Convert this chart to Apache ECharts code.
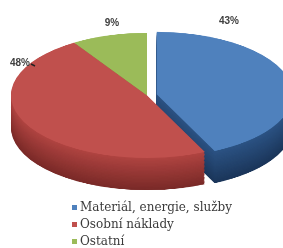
<!DOCTYPE html>
<html>
<head>
<meta charset="utf-8">
<script src="https://cdn.jsdelivr.net/npm/echarts@6/dist/echarts.min.js"></script>
<style>
    html, body { margin: 0; padding: 0; background: #fff; }
    #wrap { position: relative; width: 283px; height: 248px; overflow: hidden; }
    /* the pie is drawn round, then flattened into a tilted disc */
    #pie3d { position: absolute; left: 0; top: 31px; width: 283px; height: 350px;
             transform: scaleY(0.46); transform-origin: 0 0; }
    #overlay { position: absolute; left: 0; top: 0; width: 283px; height: 248px; }
</style>
</head>
<body>
<div id="wrap">
    <div id="pie3d"></div>
    <div id="overlay"></div>
</div>
<script>
const categories = ['Materiál, energie, služby', 'Osobní náklady', 'Ostatní'];
const values = [43, 48, 9];
const exploded = [true, false, false];

const topColors = ['#4f81bd', '#c0504d', '#9bbb59'];
const sideTop = ['#2c5384', '#b04441', '#74903b'];
const sideBottom = ['#1b365a', '#7a2a28', '#52682a'];

function mix(a, b, t) {
    const pa = [1, 3, 5].map(i => parseInt(a.substr(i, 2), 16));
    const pb = [1, 3, 5].map(i => parseInt(b.substr(i, 2), 16));
    return 'rgb(' + pa.map((v, i) => Math.round(v + (pb[i] - v) * t)).join(',') + ')';
}

const pieChart = echarts.init(document.getElementById('pie3d'), null, { renderer: 'canvas' });
const overlay = echarts.init(document.getElementById('overlay'), null, { renderer: 'canvas' });

const depth = 70;     // extrusion, in unscaled px
const layers = 24;
const cx = 147, cy = 140, r = 136;

function pieLayer(offset, colors, z) {
    return {
        type: 'pie',
        center: [cx, cy + offset],
        radius: [0, r],
        startAngle: 90,
        clockwise: true,
        selectedMode: 'single',
        selectedOffset: 10,
        silent: true,
        animation: false,
        z: z,
        label: { show: false },
        labelLine: { show: false },
        emphasis: { disabled: true },
        data: categories.map((name, i) => ({
            name: name,
            value: values[i],
            selected: exploded[i],
            itemStyle: { color: colors[i] }
        }))
    };
}

const series = [];
for (let k = layers; k >= 1; k--) {
    const t = k / layers;
    const cols = categories.map((_, i) => mix(sideTop[i], sideBottom[i], t));
    series.push(pieLayer(depth * t, cols, layers - k + 1));
}
series.push(pieLayer(0, topColors, layers + 2));

pieChart.setOption({
    animation: false,
    series: series
});

// labels and legend sit on an unflattened layer
const labelPos = [[229, 21], [20, 63], [112, 23]];

overlay.setOption({
    animation: false,
    legend: {
        orient: 'vertical',
        left: 67,
        top: 195,
        height: 80,
        icon: 'rect',
        itemWidth: 5,
        itemHeight: 5,
        itemGap: 2,
        selectedMode: false,
        data: categories,
        textStyle: {
            fontFamily: 'DejaVu Serif',
            fontSize: 12,
            color: '#3a3a3a',
            lineHeight: 15,
            padding: [0, 0, 0, -2]
        }
    },
    graphic: values.map((v, i) => ({
        type: 'text',
        x: labelPos[i][0],
        y: labelPos[i][1],
        style: {
            text: v + '%',
            font: 'bold 10px "Liberation Sans"',
            fill: '#404040',
            align: 'center',
            verticalAlign: 'middle'
        }
    })).concat([{
        type: 'line',
        shape: { x1: 31, y1: 64, x2: 35, y2: 66 },
        style: { stroke: '#222', lineWidth: 1.5 }
    }]),
    series: [{
        // only feeds the legend its colours
        type: 'pie',
        radius: [0, 0],
        silent: true,
        label: { show: false },
        labelLine: { show: false },
        data: categories.map((name, i) => ({
            name: name,
            value: values[i],
            itemStyle: { color: topColors[i] }
        }))
    }]
});

window.addEventListener('resize', () => {
    pieChart.resize();
    overlay.resize();
});
</script>
</body>
</html>
